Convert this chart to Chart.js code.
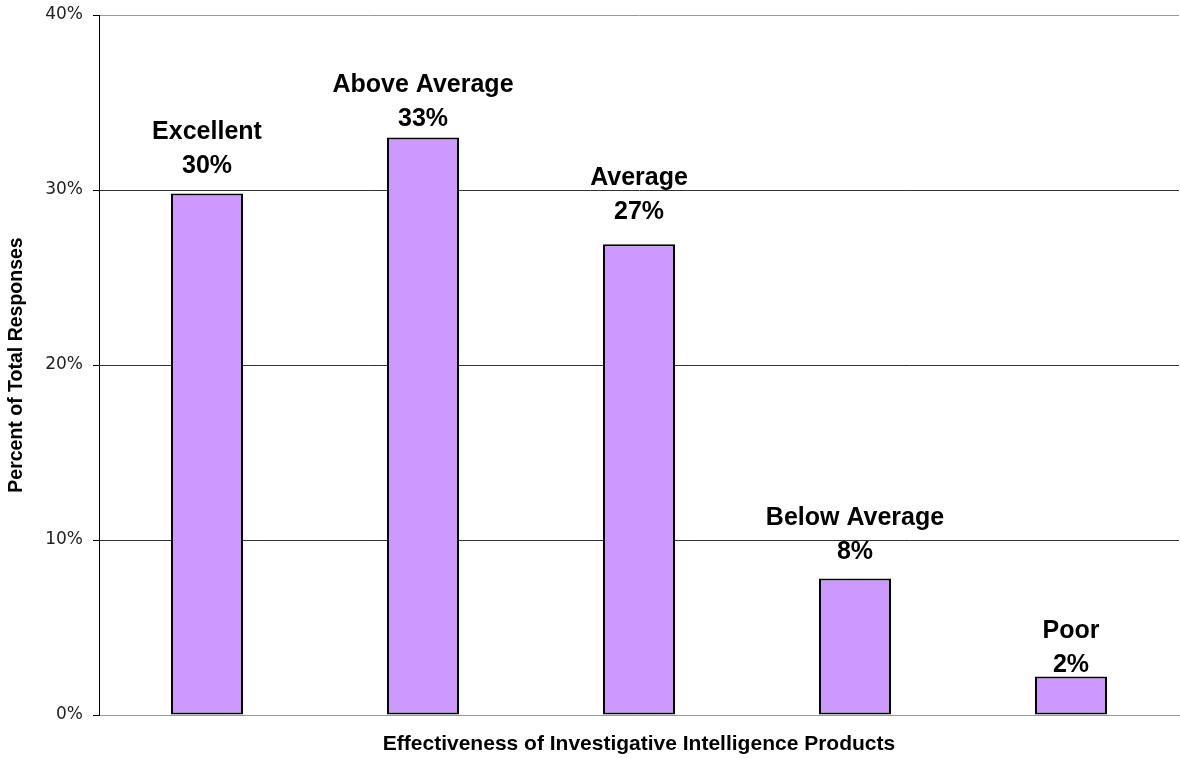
<!DOCTYPE html>
<html>
<head>
<meta charset="utf-8">
<script src="https://cdn.jsdelivr.net/npm/chart.js@4.4.1/dist/chart.umd.min.js"></script>
<style>
  html, body { margin: 0; padding: 0; background: #fff; }
  #wrap { width: 1180px; height: 758px; position: relative; }
</style>
</head>
<body>
<div id="wrap"><canvas id="chart"></canvas></div>
<script>
const categories = ["Excellent", "Above Average", "Average", "Below Average", "Poor"];
const percentValues = [29.8, 33.0, 26.9, 7.8, 2.2];
const yTicks = [0, 10, 20, 30, 40];

// gap between bar top and its label (px), label spacing varies in the original
const labelGaps = [21, 12, 25, 20, 5];

const barLabels = {
  id: 'barLabels',
  afterDatasetsDraw(chart) {
    const ctx = chart.ctx;
    const meta = chart.getDatasetMeta(0);
    ctx.save();
    ctx.font = 'bold 25px "Liberation Sans", Arial, sans-serif';
    ctx.fillStyle = '#000';
    ctx.textAlign = 'center';
    ctx.textBaseline = 'alphabetic';
    meta.data.forEach((bar, i) => {
      const base = bar.y - labelGaps[i];
      ctx.fillText(Math.round(percentValues[i]) + '%', bar.x, base);
      ctx.fillText(categories[i], bar.x, base - 34);
    });
    ctx.restore();
  }
};

new Chart(document.getElementById('chart'), {
  type: 'bar',
  data: {
    labels: categories,
    datasets: [{
      data: percentValues,
      backgroundColor: '#CC99FF',
      borderColor: '#000',
      borderWidth: 2,
      borderSkipped: false,
      barPercentage: 1 / 3,
      categoryPercentage: 1
    }]
  },
  options: {
    responsive: true,
    maintainAspectRatio: false,
    animation: false,
    layout: { padding: { top: 15, right: 1, left: 0, bottom: 0 } },
    plugins: {
      legend: { display: false },
      tooltip: { enabled: false }
    },
    scales: {
      x: {
        grid: { display: false },
        border: { color: '#999', width: 1 },
        ticks: { display: false },
        title: {
          display: true,
          text: 'Effectiveness of Investigative Intelligence Products',
          color: '#000',
          font: { family: '"Liberation Sans", Arial, sans-serif', size: 21, weight: 'bold' },
          padding: { top: 0, bottom: 1 }
        },
        afterFit(scale) { scale.height = 43; }
      },
      y: {
        min: 0,
        max: 40,
        afterBuildTicks(scale) { scale.ticks = yTicks.map(v => ({ value: v })); },
        grid: {
          color: ctx => (ctx.tick && (ctx.tick.value === 0 || ctx.tick.value === 40)) ? '#999' : '#333',
          tickColor: '#000',
          tickLength: 6,
          lineWidth: 1
        },
        border: { color: '#000', width: 1 },
        ticks: {
          color: '#222',
          padding: 10,
          font: { family: '"DejaVu Sans", Verdana, sans-serif', size: 17 },
          callback: v => v + '%'
        },
        title: {
          display: true,
          text: 'Percent of Total Responses',
          color: '#000',
          font: { family: '"Liberation Sans", Arial, sans-serif', size: 19.5, weight: 'bold' },
          padding: { top: 5, bottom: 0 }
        },
        afterFit(scale) {
          scale.width = 99;
          scale.paddingTop = 0;
          scale.paddingBottom = 0;
        }
      }
    }
  },
  plugins: [barLabels]
});
</script>
</body>
</html>
